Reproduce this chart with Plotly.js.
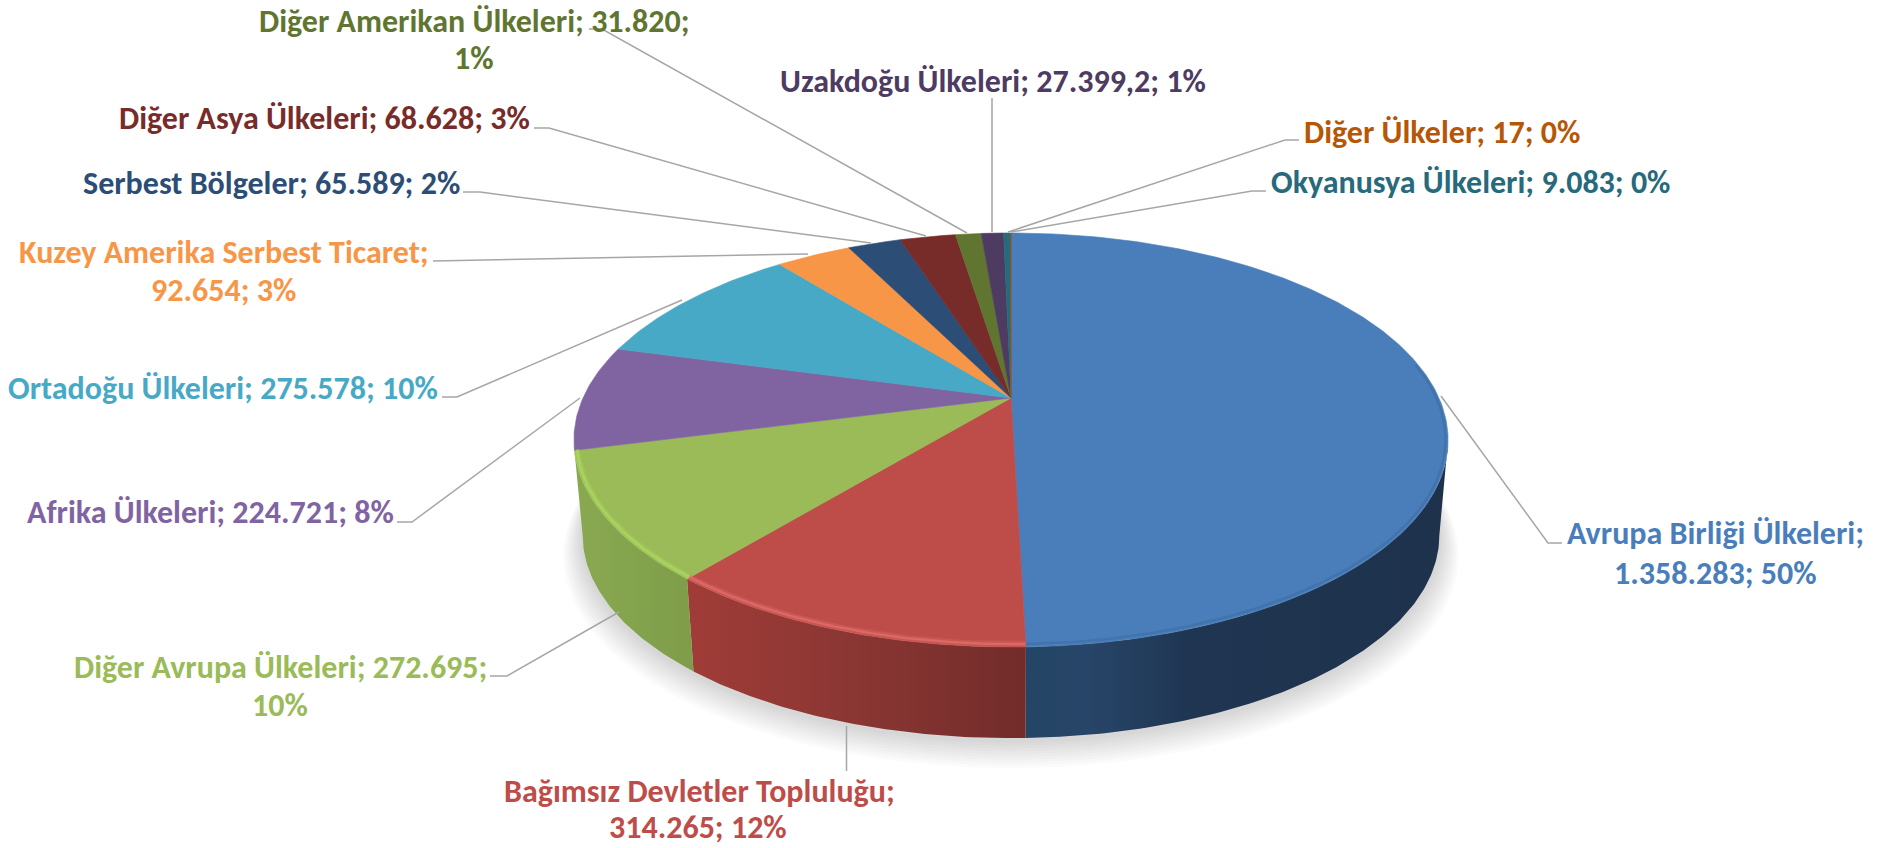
<!DOCTYPE html>
<html><head><meta charset="utf-8">
<script src="https://cdn.plot.ly/plotly-3.0.1.min.js"></script>
<style>html,body{margin:0;padding:0;background:#fff;overflow:hidden}#c{width:1879px;height:848px}</style>
</head><body><div id="c"></div>
<script>
// ---- data ----
const categories = ["Avrupa Birliği Ülkeleri","Bağımsız Devletler Topluluğu","Diğer Avrupa Ülkeleri","Afrika Ülkeleri","Ortadoğu Ülkeleri","Kuzey Amerika Serbest Ticaret","Serbest Bölgeler","Diğer Asya Ülkeleri","Diğer Amerikan Ülkeleri","Uzakdoğu Ülkeleri","Okyanusya Ülkeleri","Diğer Ülkeler"];
const values = [1358283,314265,272695,224721,275578,92654,65589,68628,31820,27399.2,9083,17];
const valueLabels = ["1.358.283","314.265","272.695","224.721","275.578","92.654","65.589","68.628","31.820","27.399,2","9.083","17"];
const percentLabels = ["50%","12%","10%","8%","10%","3%","2%","3%","1%","1%","0%","0%"];

// ---- styling ----
const colors = ["#4A7EBB","#BE4D4A","#9ABB57","#8064A2","#47A9C5","#F79646","#2C4D75","#772C2A","#5F7530","#4D3B62","#276A7C","#B65708"];
const wallScales = {
  0:[[0,"#244566"],[0.15,"#274568"],[0.4,"#1F3551"],[1,"#1E324C"]],
  1:[[0,"#A03C38"],[0.5,"#8A3633"],[1,"#722C2A"]],
  2:[[0,"#89A951"],[1,"#7F9D49"]]
};
// the wall outline leaves the top rim at its widest point on either side
const wallStart = {0:101.7};
const wallEnd = {2:258.3};
const rimColors = {0:"#3A6597",1:"#E4716D",2:"#AEDA62"};
const labelLines = [
  (c,v,p)=>[c+";", v+"; "+p],
  (c,v,p)=>[c+";", v+"; "+p],
  (c,v,p)=>[c+"; "+v+";", p],
  (c,v,p)=>[c+"; "+v+"; "+p],
  (c,v,p)=>[c+"; "+v+"; "+p],
  (c,v,p)=>[c+";", v+"; "+p],
  (c,v,p)=>[c+"; "+v+"; "+p],
  (c,v,p)=>[c+"; "+v+"; "+p],
  (c,v,p)=>[c+"; "+v+";", p],
  (c,v,p)=>[c+"; "+v+"; "+p],
  (c,v,p)=>[c+"; "+v+"; "+p],
  (c,v,p)=>[c+"; "+v+"; "+p]
];
const labelAnchors = [
  [[1715,533],[1715,573]],
  [[699,791],[698,827]],
  [[280,667],[280,705]],
  [[210,512]],
  [[223,388]],
  [[224,252],[223,290]],
  [[271,183]],
  [[324,118]],
  [[474,21],[474,58]],
  [[993,81]],
  [[1470,182]],
  [[1442,132]]
];
const leaderPaths = [
  "M1562,543 L1548,543 L1441,396",
  "M846.5,771 L846.5,726",
  "M490,676 L507,676 L619,612",
  "M397,522 L412,522 L580,398",
  "M442,397 L457,397 L682,300",
  "M433,261 L808,254",
  "M463,192 L480,192 L871,243",
  "M534,128 L549,128 L926,236",
  "M589,29 L602,29 L967,233",
  "M992,98 L992,232",
  "M1266,191 L1252,191 L1011,232",
  "M1299,140 L1285,140 L1008,232"
];

// ---- tilted-disc projection ----
const CX=1011, CY=398, B=428, A=198.5, K=0.203, WALL_S=0.98, WALL_DY=96;
function topPt(deg){
  const t=deg*Math.PI/180, u=Math.sin(t), v=-Math.cos(t), d=1-K*v;
  return [CX+B*u/d, CY+A*v/d];
}
function botPt(deg,scale,dy){
  const p=topPt(deg), s=scale===undefined?WALL_S:scale, o=dy===undefined?WALL_DY:dy;
  return [CX+s*(p[0]-CX), CY+o+s*(p[1]-CY)];
}
function arc(a,b,fn){
  const out=[], n=Math.max(2,Math.ceil(Math.abs(b-a)/0.75));
  for(let i=0;i<=n;i++) out.push(fn(a+(b-a)*i/n));
  return out;
}
const total = values.reduce((s,x)=>s+x,0);
let acc=0;
const spans = values.map(x=>{const a=acc; acc+=x/total*360; return [a,acc];});

const traces=[];
function poly(pts,extra){
  traces.push(Object.assign({type:"scatter",mode:"lines",x:pts.map(p=>p[0]),y:pts.map(p=>p[1]),
    hoverinfo:"skip",showlegend:false,fill:"toself",line:{width:0}},extra));
}
// soft shadow under the disc
for(let i=10;i>=1;i--){
  const grow=1+i*0.0045, dy=WALL_DY+2+i*1.7;
  const pts=arc(0,360,d=>botPt(d,WALL_S*grow,dy));
  poly(pts,{fillcolor:"rgba(70,70,70,0.02)"});
}
// side walls
spans.forEach((s,i)=>{
  if(!wallScales[i]) return;
  const a=wallStart[i]===undefined?s[0]:wallStart[i];
  const b=wallEnd[i]===undefined?s[1]:wallEnd[i];
  const pts=arc(a,s[1],topPt).concat(arc(b,a,botPt));
  poly(pts,{fillgradient:{type:"horizontal",colorscale:wallScales[i]},fillcolor:colors[i]});
});
// top faces
spans.forEach((s,i)=>{
  const pts=[[CX,CY]].concat(arc(s[0],s[1],topPt)); pts.push([CX,CY]);
  poly(pts,{fillcolor:colors[i],line:{width:0.6,color:colors[i]}});
});
// rim highlights on the front edge
spans.forEach((s,i)=>{
  if(!rimColors[i]) return;
  const a=Math.max(s[0],i===0?80:0), b=s[1];
  const pts=arc(a,b,d=>{const p=topPt(d);return [p[0]+(CX-p[0])*0.006,p[1]+(CY-p[1])*0.012];});
  const base={type:"scatter",mode:"lines",x:pts.map(p=>p[0]),y:pts.map(p=>p[1]),hoverinfo:"skip",showlegend:false};
  if(i===0){
    traces.push(Object.assign({},base,{opacity:0.45,line:{width:2.5,color:rimColors[i]}}));
  } else {
    traces.push(Object.assign({},base,{opacity:0.28,line:{width:6,color:rimColors[i]}}));
    traces.push(Object.assign({},base,{opacity:0.7,line:{width:2.5,color:rimColors[i]}}));
  }
});

// labels
const FONT='Carlito, Lato, "Open Sans", sans-serif';
const annotations=[];
categories.forEach((c,i)=>{
  const lines=labelLines[i](c,valueLabels[i],percentLabels[i]);
  lines.forEach((txt,j)=>{
    annotations.push({xref:"x",yref:"y",x:labelAnchors[i][j][0],y:labelAnchors[i][j][1],text:txt,showarrow:false,
      xanchor:"center",yanchor:"middle",borderpad:0,font:{family:FONT,size:32,color:colors[i],weight:700}});
  });
});
const shapes=leaderPaths.map(p=>({type:"path",path:p,xref:"x",yref:"y",line:{color:"#A6A6A6",width:1.5}}));

Plotly.newPlot("c",traces,{
  width:1879,height:848,margin:{l:0,r:0,t:0,b:0,pad:0},
  paper_bgcolor:"#fff",plot_bgcolor:"#fff",showlegend:false,
  xaxis:{range:[0,1879],visible:false,fixedrange:true},
  yaxis:{range:[848,0],visible:false,fixedrange:true},
  annotations,shapes,hovermode:false
},{displayModeBar:false,staticPlot:true});
</script></body></html>
